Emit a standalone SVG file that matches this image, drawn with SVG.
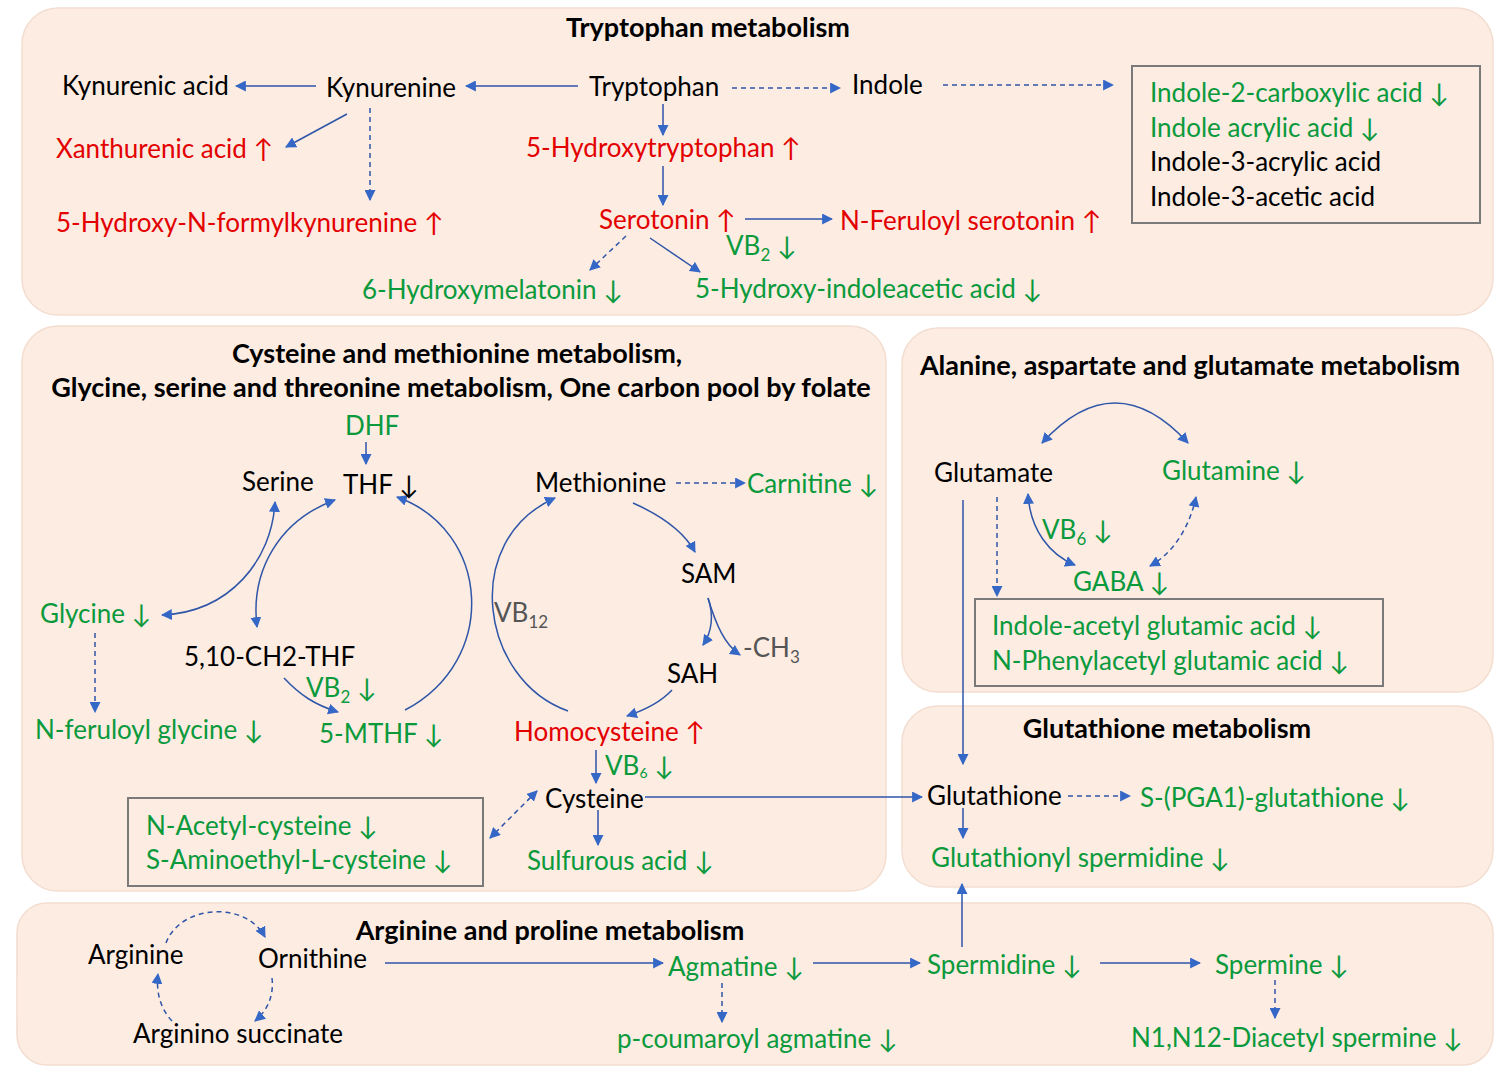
<svg xmlns="http://www.w3.org/2000/svg" width="1511" height="1086" viewBox="0 0 1511 1086">
<defs>
<marker id="ah" viewBox="0 0 10 10" refX="9" refY="5" markerWidth="11" markerHeight="11" markerUnits="userSpaceOnUse" orient="auto-start-reverse">
<path d="M0,0 L10,5 L0,10 z" fill="#3567c6"/>
</marker>
<style>
.panel{fill:#fcece2;stroke:#f3ddd0;stroke-width:1.5}
.box{fill:none;stroke:#7a7a7a;stroke-width:2}
text{font-family:Lato,"Liberation Sans",sans-serif;font-size:26px}
.t{font-weight:bold;fill:#000;font-size:27px}
.k{fill:#000}
.r{fill:#e30000}
.g{fill:#0a9a3c}
.gr{fill:#555}
.s{font-size:17px}
.c{fill:none;stroke:#2f55a8;stroke-width:1.5;marker-end:url(#ah)}
.b{marker-start:url(#ah)}
.d{stroke-dasharray:5,4}
</style>
</defs>
<g id="panels">
<rect id="p-trp" class="panel" x="22" y="8" width="1471" height="307" rx="36"/>
<rect id="p-cys" class="panel" x="22" y="326" width="864" height="565" rx="36"/>
<rect id="p-ala" class="panel" x="902" y="328" width="591" height="364" rx="36"/>
<rect id="p-gsh" class="panel" x="902" y="706" width="591" height="181" rx="36"/>
<rect id="p-arg" class="panel" x="17" y="903" width="1476" height="162" rx="30"/>
</g>
<g id="titles">
<text class="t" x="708" y="37" text-anchor="middle">Tryptophan metabolism</text>
<text class="t" x="457" y="363" text-anchor="middle">Cysteine and methionine metabolism,</text>
<text class="t" x="461" y="397" text-anchor="middle">Glycine, serine and threonine metabolism, One carbon pool by folate</text>
<text class="t" x="1190" y="375" text-anchor="middle">Alanine, aspartate and glutamate metabolism</text>
<text class="t" x="1167" y="738" text-anchor="middle">Glutathione metabolism</text>
<text class="t" x="550" y="940" text-anchor="middle">Arginine and proline metabolism</text>
</g>
<g id="connectors">
<line class="c" x1="578" y1="86" x2="466" y2="86"/>
<line class="c" x1="316" y1="86" x2="236" y2="86"/>
<line class="c" x1="347" y1="114" x2="286" y2="147"/>
<line class="c d" x1="370" y1="108" x2="370" y2="200"/>
<line class="c d" x1="732" y1="88" x2="840" y2="88"/>
<line class="c d" x1="943" y1="85" x2="1113" y2="85"/>
<line class="c" x1="663" y1="104" x2="663" y2="135"/>
<line class="c" x1="663" y1="166" x2="663" y2="205"/>
<line class="c" x1="745" y1="219" x2="832" y2="219"/>
<line class="c d" x1="626" y1="236" x2="590" y2="270"/>
<line class="c" x1="650" y1="238" x2="700" y2="272"/>
<line class="c" x1="366" y1="442" x2="366" y2="464"/>
<path class="c b" d="M275,502 C272,560 230,612 162,615"/>
<path class="c b" d="M335,500 C280,520 250,570 257,627"/>
<path class="c" d="M284,678 C300,695 315,705 338,712"/>
<path class="c" d="M405,710 C500,660 490,530 397,497"/>
<line class="c d" x1="95" y1="633" x2="95" y2="712"/>
<line class="c d" x1="676" y1="483" x2="745" y2="483"/>
<path class="c" d="M633,503 C660,515 683,530 695,552"/>
<path class="c" d="M708,598 C714,615 712,632 703,645"/>
<path class="c" d="M708,598 C716,625 725,645 740,655"/>
<path class="c" d="M672,690 C660,703 645,710 627,716"/>
<path class="c" d="M568,711 C480,680 460,540 555,498"/>
<line class="c" x1="596" y1="750" x2="596" y2="783"/>
<line class="c" x1="645" y1="797" x2="922" y2="797"/>
<line class="c" x1="598" y1="810" x2="598" y2="845"/>
<line class="c b d" x1="537" y1="791" x2="490" y2="838"/>
<path class="c b" d="M1042,443 Q1115,363 1188,443"/>
<path class="c b" d="M1028,494 C1030,530 1050,555 1075,565"/>
<path class="c b d" d="M1196,497 C1190,525 1175,552 1150,566"/>
<line class="c d" x1="997" y1="497" x2="997" y2="596"/>
<line class="c" x1="963" y1="500" x2="963" y2="764"/>
<line class="c d" x1="1068" y1="796" x2="1130" y2="796"/>
<line class="c" x1="963" y1="808" x2="963" y2="838"/>
<line class="c" x1="962" y1="947" x2="962" y2="884"/>
<path class="c d" d="M166,943 C180,905 245,900 265,937"/>
<path class="c d" d="M272,978 C274,995 268,1010 255,1021"/>
<path class="c d" d="M172,1021 C160,1008 156,992 158,974"/>
<line class="c" x1="385" y1="963" x2="663" y2="963"/>
<line class="c d" x1="722" y1="983" x2="722" y2="1022"/>
<line class="c" x1="813" y1="963" x2="920" y2="963"/>
<line class="c" x1="1100" y1="963" x2="1200" y2="963"/>
<line class="c d" x1="1275" y1="980" x2="1275" y2="1018"/>
</g>
<g id="n-trp">
<text class="k" x="62" y="95">Kynurenic acid</text>
<text class="k" x="326" y="97">Kynurenine</text>
<text class="k" x="589" y="96">Tryptophan</text>
<text class="k" x="852" y="94">Indole</text>
<text class="r" x="56" y="158">Xanthurenic acid ↑</text>
<text class="r" x="56" y="232">5-Hydroxy-N-formylkynurenine ↑</text>
<text class="r" x="526" y="157">5-Hydroxytryptophan ↑</text>
<text class="r" x="599" y="229">Serotonin ↑</text>
<text class="r" x="840" y="230">N-Feruloyl serotonin ↑</text>
<text class="g" x="726" y="255">VB<tspan class="s" dy="6">2</tspan><tspan dy="-6"> ↓</tspan></text>
<text class="g" x="362" y="299">6-Hydroxymelatonin ↓</text>
<text class="g" x="695" y="298">5-Hydroxy-indoleacetic acid ↓</text>
</g>
<g id="n-indolebox">
<rect class="box" x="1132" y="66" width="348" height="157"/>
<text class="g" x="1150" y="102">Indole-2-carboxylic acid ↓</text>
<text class="g" x="1150" y="137">Indole acrylic acid ↓</text>
<text class="k" x="1150" y="171">Indole-3-acrylic acid</text>
<text class="k" x="1150" y="206">Indole-3-acetic acid</text>
</g>
<g id="n-cys">
<text class="g" x="345" y="435">DHF</text>
<text class="k" x="242" y="491">Serine</text>
<text class="k" x="343" y="494">THF ↓</text>
<text class="g" x="40" y="623">Glycine ↓</text>
<text class="k" x="184" y="666">5,10-CH2-THF</text>
<text class="g" x="306" y="697">VB<tspan class="s" dy="6">2</tspan><tspan dy="-6"> ↓</tspan></text>
<text class="g" x="35" y="739">N-feruloyl glycine ↓</text>
<text class="g" x="319" y="743">5-MTHF ↓</text>
<text class="k" x="535" y="492">Methionine</text>
<text class="g" x="747" y="493">Carnitine ↓</text>
<text class="k" x="681" y="583">SAM</text>
<text class="k" x="667" y="683">SAH</text>
<text class="gr" x="743" y="657">-CH<tspan class="s" dy="6">3</tspan></text>
<text class="gr" x="494" y="622">VB<tspan class="s" dy="6">12</tspan></text>
<text class="r" x="514" y="741">Homocysteine ↑</text>
<text class="g" x="605" y="775" font-size="22">VB<tspan font-size="14" dy="3">6</tspan><tspan dy="-3"> ↓</tspan></text>
<text class="k" x="545" y="808">Cysteine</text>
<text class="g" x="527" y="870">Sulfurous acid ↓</text>
</g>
<g id="n-cysbox">
<rect class="box" x="128" y="798" width="355" height="88"/>
<text class="g" x="146" y="835">N-Acetyl-cysteine ↓</text>
<text class="g" x="146" y="869">S-Aminoethyl-L-cysteine ↓</text>
</g>
<g id="n-ala">
<text class="k" x="934" y="482">Glutamate</text>
<text class="g" x="1162" y="480">Glutamine ↓</text>
<text class="g" x="1042" y="539">VB<tspan class="s" dy="6">6</tspan><tspan dy="-6"> ↓</tspan></text>
<text class="g" x="1073" y="591">GABA ↓</text>
</g>
<g id="n-alabox">
<rect class="box" x="975" y="599" width="408" height="87"/>
<text class="g" x="992" y="635">Indole-acetyl glutamic acid ↓</text>
<text class="g" x="992" y="670">N-Phenylacetyl glutamic acid ↓</text>
</g>
<g id="n-gsh">
<text class="k" x="927" y="805">Glutathione</text>
<text class="g" x="1140" y="807">S-(PGA1)-glutathione ↓</text>
<text class="g" x="931" y="867">Glutathionyl spermidine ↓</text>
</g>
<g id="n-arg">
<text class="k" x="88" y="964">Arginine</text>
<text class="k" x="258" y="968">Ornithine</text>
<text class="k" x="133" y="1043">Arginino succinate</text>
<text class="g" x="668" y="976">Agmatine ↓</text>
<text class="g" x="617" y="1048">p-coumaroyl agmatine ↓</text>
<text class="g" x="927" y="974">Spermidine ↓</text>
<text class="g" x="1215" y="974">Spermine ↓</text>
<text class="g" x="1131" y="1047">N1,N12-Diacetyl spermine ↓</text>
</g>
</svg>
